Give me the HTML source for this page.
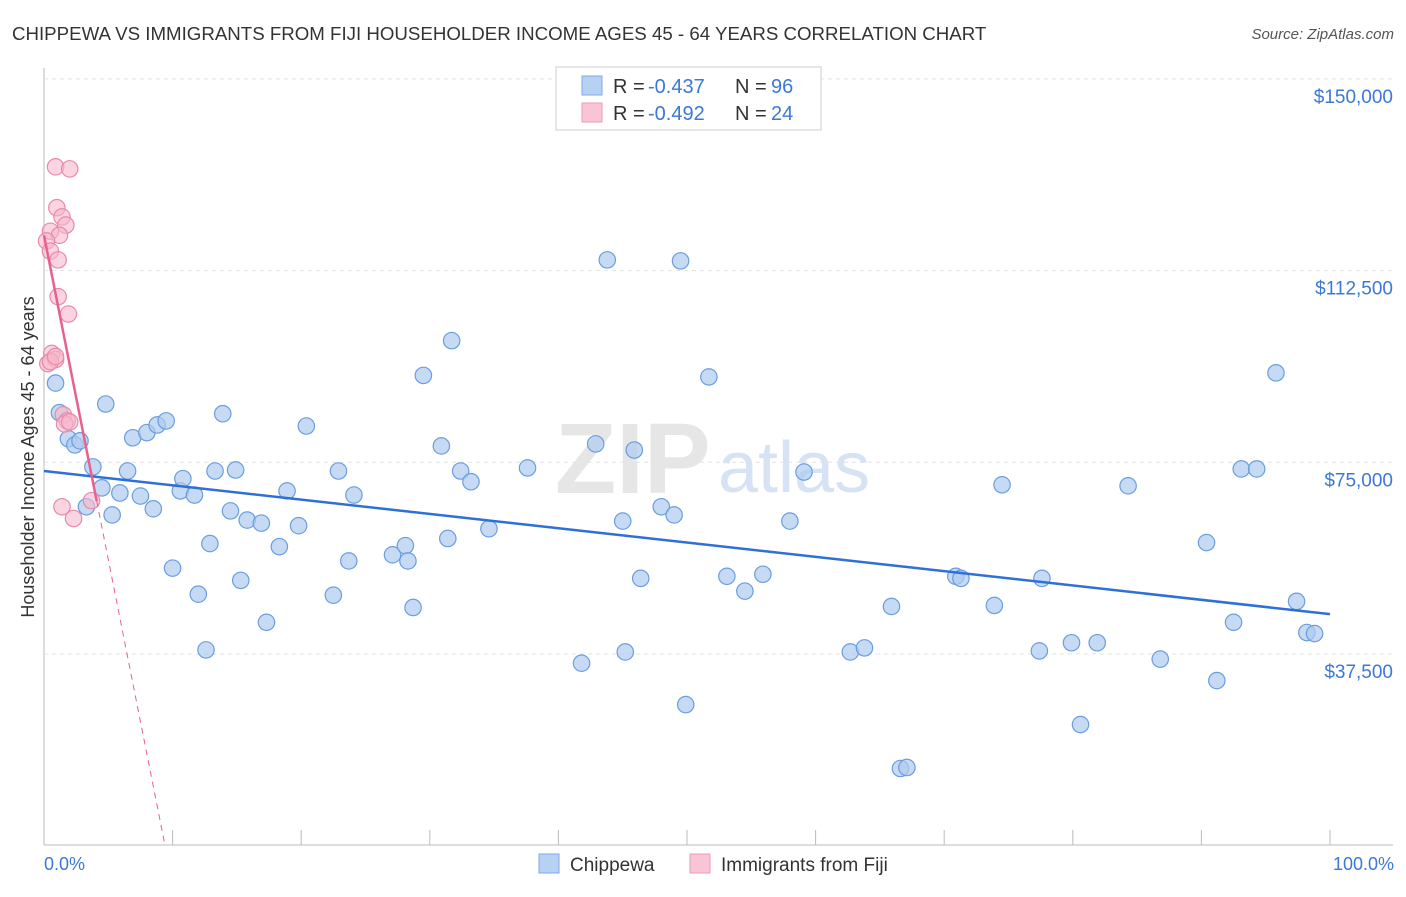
<!DOCTYPE html>
<html><head><meta charset="utf-8"><style>
body{margin:0;background:#fff;font-family:"Liberation Sans",sans-serif;}
svg text{font-family:"Liberation Sans",sans-serif;}
</style></head><body>
<svg width="1406" height="892" viewBox="0 0 1406 892" xmlns="http://www.w3.org/2000/svg">
<text x="12" y="40" font-size="18.7" fill="#333">CHIPPEWA VS IMMIGRANTS FROM FIJI HOUSEHOLDER INCOME AGES 45 - 64 YEARS CORRELATION CHART</text>
<text x="1394" y="39" font-size="15" fill="#555" font-style="italic" text-anchor="end">Source: ZipAtlas.com</text>
<g id="grid"></g>
<text x="555" y="493" font-size="100" fill="#e6e6e6" font-family="Liberation Serif" font-weight="bold">ZIP</text>
<text x="718" y="492" font-size="72" fill="#d6e3f5">atlas</text>
<text transform="translate(34,457) rotate(-90)" font-size="18" fill="#333" text-anchor="middle">Householder Income Ages 45 - 64 years</text>
<text x="44" y="870" font-size="18" fill="#3b78d8">0.0%</text>
<text x="1394" y="870" font-size="18" fill="#3b78d8" text-anchor="end">100.0%</text>
<g id="pts"></g>
<g id="lines"></g>
<g>
<rect x="556" y="67" width="265" height="63" fill="#fff" stroke="#ccc"/>
<rect x="582" y="76" width="20" height="19" fill="#b7d1f3" stroke="#7fa9e6"/>
<rect x="582" y="103" width="20" height="19" fill="#f9c5d5" stroke="#ee9ab6"/>
<text x="613" y="93" font-size="20" fill="#333">R = </text><text x="648" y="93" font-size="20" fill="#3b78d8">-0.437</text>
<text x="735" y="93" font-size="20" fill="#333">N = </text><text x="771" y="93" font-size="20" fill="#3b78d8">96</text>
<text x="613" y="120" font-size="20" fill="#333">R = </text><text x="648" y="120" font-size="20" fill="#3b78d8">-0.492</text>
<text x="735" y="120" font-size="20" fill="#333">N = </text><text x="771" y="120" font-size="20" fill="#3b78d8">24</text>
</g>
<g><rect x="539" y="854" width="20" height="19" fill="#b7d1f3" stroke="#7fa9e6"/><text x="570" y="871" font-size="19" fill="#333">Chippewa</text></g>
<g><rect x="690" y="854" width="20" height="19" fill="#f9c5d5" stroke="#ee9ab6"/><text x="721" y="871" font-size="19" fill="#333">Immigrants from Fiji</text></g>
</svg>
<script>
const yTicks=[150000,112500,75000,37500];
const yTickLabels=["$150,000","$112,500","$75,000","$37,500"];
const blueX=[0.9,1.2,1.9,2.4,2.8,3.8,3.3,4.5,4.8,5.3,5.9,6.5,6.9,7.5,8.0,8.5,8.8,9.5,10.0,10.6,10.8,11.7,12.0,12.6,12.9,13.3,13.9,14.5,14.9,15.3,15.8,16.9,17.3,18.3,18.9,19.8,20.4,22.5,22.9,23.7,24.1,27.1,28.1,28.3,28.7,29.5,30.9,31.4,31.7,32.4,33.2,34.6,37.6,41.8,42.9,43.8,45.0,45.2,45.9,46.4,48.0,49.0,49.5,49.9,51.7,53.1,54.5,55.9,58.0,59.1,62.7,63.8,65.9,66.6,67.1,70.9,71.3,73.9,74.5,77.4,77.6,79.9,81.9,84.3,86.8,90.4,91.2,92.5,93.1,94.3,95.8,97.4,98.2,98.8,80.6];
const blueY=[90500,84700,79600,78400,79200,74100,66300,70000,86400,64700,69000,73300,79800,68400,80800,65900,82300,83100,54300,69400,71800,68600,49200,38300,59100,73300,84500,65500,73500,51900,63700,63100,43700,58500,69400,62600,82100,49000,73300,55700,68600,56900,58700,55700,46600,92000,78200,60100,98800,73300,71200,62000,73900,35700,78600,114600,63500,37900,77400,52300,66300,64700,114400,27600,91700,52700,49800,53100,63500,73100,37900,38700,46800,15100,15300,52700,52300,47000,70600,38100,52300,39700,39700,70400,36500,59300,32300,43700,73700,73700,92500,47800,41700,41500,23700];
const pinkX=[0.9,2.0,1.0,1.4,1.7,0.5,1.2,0.2,0.5,1.1,1.1,1.9,0.6,0.9,0.3,1.5,1.8,1.6,2.0,1.4,2.3,3.7,0.5,0.9];
const pinkY=[132800,132400,124800,123000,121400,120200,119400,118300,116300,114600,107400,104000,96300,95100,94300,84300,83100,82500,82900,66300,64000,67500,94700,95700];
const blueFit=[73300,45300];
const pinkFit=[119400,67400];
const NS="http://www.w3.org/2000/svg";
const X0=44,X1=1330,Y0=845.7,PPV=191.7/37500;
const sx=v=>X0+(X1-X0)*v/100, sy=v=>Y0-v*PPV;
function mk(t,a,p){const e=document.createElementNS(NS,t);for(const k in a)e.setAttribute(k,a[k]);p.appendChild(e);return e;}
const grid=document.getElementById('grid');
mk('line',{x1:44,y1:845,x2:1393,y2:845,stroke:'#bbb'},grid);
mk('line',{x1:44,y1:68,x2:44,y2:845,stroke:'#bbb'},grid);
yTicks.forEach((v,i)=>{
 const g=mk('line',{x1:44,y1:sy(v),x2:1393,y2:sy(v),stroke:'#e2e2e2','stroke-dasharray':'4,4'},grid);
 
 
 const t=mk('text',{x:1393,y:sy(v)+24,'font-size':19,fill:'#3b78d8','text-anchor':'end'},grid);
 t.textContent=yTickLabels[i];
 
 
});
for(let i=1;i<=10;i++){const l=mk('line',{x1:sx(i*10),y1:830,x2:sx(i*10),y2:845,stroke:'#bbb'},grid);
 
 }
const pts=document.getElementById('pts');
blueX.forEach((x,i)=>{const c=mk('circle',{cx:sx(x),cy:sy(blueY[i]),r:8.2,fill:'#aecbf0','fill-opacity':0.7,stroke:'#6a9de0','stroke-width':1.2},pts);
 
 });
pinkX.forEach((x,i)=>{const c=mk('circle',{cx:sx(x),cy:sy(pinkY[i]),r:8.2,fill:'#f6b8cb','fill-opacity':0.6,stroke:'#e88aa8','stroke-width':1.2},pts);
 
 });
const ln=document.getElementById('lines');
const b=mk('line',{x1:sx(0),y1:sy(blueFit[0]),x2:sx(100),y2:sy(blueFit[1]),stroke:'#2f6fd8','stroke-width':2.5},ln);


const slope=(pinkFit[1]-pinkFit[0])/4.1;
const p=mk('line',{x1:sx(0),y1:sy(pinkFit[0]),x2:sx(4.1),y2:sy(pinkFit[1]),stroke:'#e8608f','stroke-width':2.5},ln);


const xEnd=-pinkFit[0]/slope;
const d=mk('line',{x1:sx(4.1),y1:sy(pinkFit[1]),x2:sx(xEnd),y2:sy(0),stroke:'#e8608f','stroke-width':1,'stroke-dasharray':'6,5'},ln);


</script>
</body></html>
